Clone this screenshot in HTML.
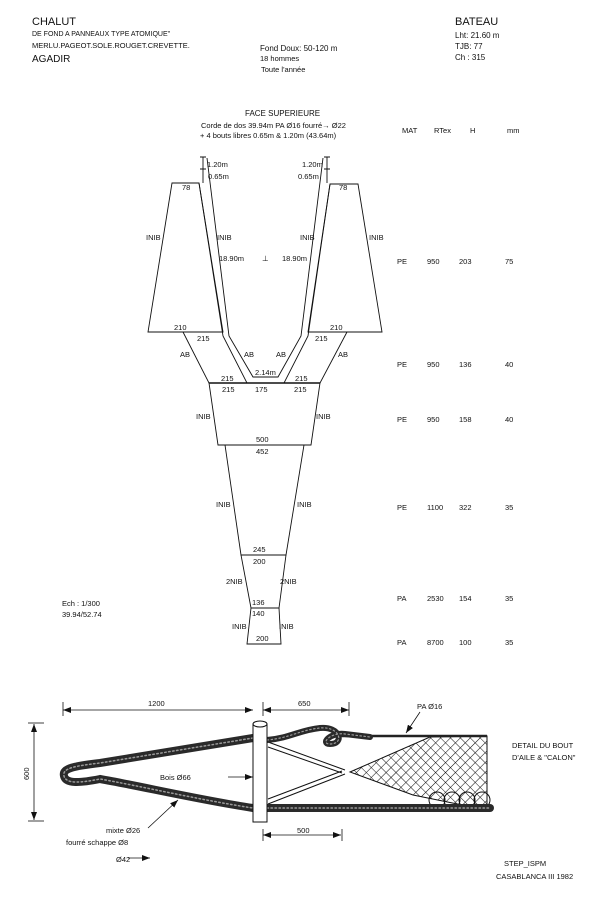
<!DOCTYPE html>
<html><head><meta charset="utf-8"><style>
html,body{margin:0;padding:0;background:#fff}
svg{display:block}
text{font-family:"Liberation Sans",sans-serif;fill:#111}
</style></head><body>
<svg width="600" height="901" viewBox="0 0 600 901" xmlns="http://www.w3.org/2000/svg">
<defs>
<marker id="ar" markerWidth="8" markerHeight="6" refX="8" refY="3" orient="auto" markerUnits="userSpaceOnUse"><path d="M0,0 L8,3 L0,6 z" fill="#111"/></marker>
<marker id="al" markerWidth="8" markerHeight="6" refX="0" refY="3" orient="auto" markerUnits="userSpaceOnUse"><path d="M8,0 L0,3 L8,6 z" fill="#111"/></marker>
<pattern id="net" width="7" height="7" patternUnits="userSpaceOnUse" patternTransform="rotate(45)"><path d="M0,0 H7 M0,0 V7" stroke="#111" stroke-width="1.1"/></pattern>
</defs>
<!-- header -->
<text x="32" y="25" font-size="11">CHALUT</text>
<text x="32" y="36" font-size="7">DE FOND A PANNEAUX TYPE ATOMIQUE"</text>
<text x="32" y="48" font-size="7.5">MERLU.PAGEOT.SOLE.ROUGET.CREVETTE.</text>
<text x="32" y="62" font-size="10">AGADIR</text>
<text x="260" y="51" font-size="8">Fond Doux: 50-120 m</text>
<text x="260" y="61" font-size="7.5">18 hommes</text>
<text x="261" y="72" font-size="7.5">Toute l'année</text>
<text x="455" y="25" font-size="11">BATEAU</text>
<text x="455" y="38" font-size="8">Lht: 21.60 m</text>
<text x="455" y="49" font-size="8">TJB: 77</text>
<text x="455" y="60" font-size="8">Ch : 315</text>
<text x="245" y="116" font-size="8">FACE SUPERIEURE</text>
<text x="201" y="128" font-size="7.5">Corde de dos 39.94m PA Ø16 fourré→ Ø22</text>
<text x="200" y="138" font-size="7.5">+ 4 bouts libres 0.65m &amp; 1.20m (43.64m)</text>
<g font-size="7.5">
<text x="402" y="133">MAT</text><text x="434" y="133">RTex</text><text x="470" y="133">H</text><text x="507" y="133">mm</text>
<text x="397" y="264">PE</text><text x="427" y="264">950</text><text x="459" y="264">203</text><text x="505" y="264">75</text>
<text x="397" y="367">PE</text><text x="427" y="367">950</text><text x="459" y="367">136</text><text x="505" y="367">40</text>
<text x="397" y="422">PE</text><text x="427" y="422">950</text><text x="459" y="422">158</text><text x="505" y="422">40</text>
<text x="397" y="510">PE</text><text x="427" y="510">1100</text><text x="459" y="510">322</text><text x="505" y="510">35</text>
<text x="397" y="601">PA</text><text x="427" y="601">2530</text><text x="459" y="601">154</text><text x="505" y="601">35</text>
<text x="397" y="645">PA</text><text x="427" y="645">8700</text><text x="459" y="645">100</text><text x="505" y="645">35</text>
</g>
<!-- net plan -->
<g fill="none" stroke="#111" stroke-width="0.9">
<polygon points="172,183 199,183 223,332 148,332"/>
<polygon points="330,184 358,184 382,332 308,332"/>
<path d="M207,158 L229,336 L253,377 L278,377 L301,336 L323,158"/>
<path d="M199,183 L223,336 L247,383"/>
<path d="M330,184 L308,336 L284,383"/>
<path d="M183,332 L209,383"/><path d="M347,332 L320,383"/>
<polygon points="209,383 320,383 311,445 218,445"/>
<polygon points="225,445 304,445 286,555 241,555"/>
<polygon points="241,555 286,555 279,608 251,608"/>
<polygon points="251,608 279,608 281,644 247,644"/>
<path d="M203,157 V183 M200,157 H206 M200,169 H206"/>
<path d="M327,157 V183 M324,157 H330 M324,169 H330"/>
</g>
<line x1="209" y1="383" x2="320" y2="383" stroke="#111" stroke-width="1.6"/>
<g font-size="7.5">
<text x="207" y="167">1.20m</text><text x="208" y="179">0.65m</text>
<text x="302" y="167">1.20m</text><text x="298" y="179">0.65m</text>
<text x="182" y="190">78</text><text x="339" y="190">78</text>
<text x="146" y="240">INIB</text><text x="217" y="240">INIB</text>
<text x="300" y="240">INIB</text><text x="369" y="240">INIB</text>
<text x="219" y="261">18.90m</text><text x="282" y="261">18.90m</text>
<text x="262" y="261">⊥</text>
<text x="174" y="330">210</text><text x="330" y="330">210</text>
<text x="197" y="341">215</text><text x="315" y="341">215</text>
<text x="180" y="357">AB</text><text x="244" y="357">AB</text><text x="276" y="357">AB</text><text x="338" y="357">AB</text>
<text x="255" y="375">2.14m</text>
<text x="221" y="381">215</text><text x="295" y="381">215</text>
<text x="222" y="392">215</text><text x="255" y="392">175</text><text x="294" y="392">215</text>
<text x="196" y="419">INIB</text><text x="316" y="419">INIB</text>
<text x="256" y="442">500</text><text x="256" y="454">452</text>
<text x="216" y="507">INIB</text><text x="297" y="507">INIB</text>
<text x="253" y="552">245</text><text x="253" y="564">200</text>
<text x="226" y="584">2NIB</text><text x="280" y="584">2NIB</text>
<text x="252" y="605">136</text><text x="252" y="616">140</text>
<text x="232" y="629">INIB</text><text x="279" y="629">INIB</text>
<text x="256" y="641">200</text>
<text x="62" y="606">Ech : 1/300</text><text x="62" y="617">39.94/52.74</text>
</g>
<!-- detail -->
<g stroke="#111" stroke-width="0.8" fill="none">
<line x1="63" y1="710" x2="253" y2="710" marker-start="url(#al)" marker-end="url(#ar)"/>
<line x1="263" y1="710" x2="349" y2="710" marker-start="url(#al)" marker-end="url(#ar)"/>
<line x1="63" y1="702" x2="63" y2="716"/><line x1="263" y1="702" x2="263" y2="716"/><line x1="349" y1="702" x2="349" y2="716"/>
<line x1="34" y1="724" x2="34" y2="820" marker-start="url(#al)" marker-end="url(#ar)"/>
<line x1="28" y1="723" x2="44" y2="723"/><line x1="28" y1="821" x2="44" y2="821"/>
<line x1="263" y1="835" x2="341" y2="835" marker-start="url(#al)" marker-end="url(#ar)"/>
<line x1="263" y1="829" x2="263" y2="841"/><line x1="342" y1="829" x2="342" y2="841"/>
<line x1="228" y1="777" x2="253" y2="777" marker-end="url(#ar)"/>
<line x1="420" y1="712" x2="406" y2="733" marker-end="url(#ar)"/>
<line x1="148" y1="828" x2="178" y2="800" marker-end="url(#ar)"/>
<line x1="128" y1="858" x2="150" y2="858" marker-end="url(#ar)"/>
</g>
<polygon points="350,772 430,737 487,736 487,810 413,795" fill="url(#net)" stroke="#111" stroke-width="1"/>
<g fill="none" stroke="#111" stroke-width="1">
<path d="M268,742 L345,770 M268,747 L342,773"/>
<path d="M268,804 L345,774 M268,799 L342,771"/>
<circle cx="437" cy="800" r="8"/><circle cx="452" cy="800" r="8"/><circle cx="467" cy="800" r="8"/><circle cx="482" cy="800" r="8"/>
</g>
<line x1="340" y1="736" x2="487" y2="736" stroke="#222" stroke-width="2.5"/>
<g fill="none" stroke-linecap="round">
<path d="M253,738 L100,763 C75,766 62,768 64,776 C66,784 80,783 100,779 C140,786 200,800 253,808" stroke="#2a2a2a" stroke-width="8"/>
<path d="M253,738 L100,763 C75,766 62,768 64,776 C66,784 80,783 100,779 C140,786 200,800 253,808" stroke="#999" stroke-width="1.5" stroke-dasharray="1.5 2.5"/>
<path d="M267,808 L490,808" stroke="#2a2a2a" stroke-width="8"/>
<path d="M267,808 L490,808" stroke="#999" stroke-width="1.5" stroke-dasharray="1.5 2.5"/>
<path d="M267,740 C290,738 300,730 320,728 C340,726 345,744 330,744 C320,744 330,732 345,734 L370,737" stroke="#2a2a2a" stroke-width="6"/>
<path d="M267,740 C290,738 300,730 320,728 C340,726 345,744 330,744 C320,744 330,732 345,734 L370,737" stroke="#999" stroke-width="1.2" stroke-dasharray="1.5 2.5"/>
</g>
<rect x="253" y="724" width="14" height="98" fill="#fff" stroke="#111" stroke-width="1"/>
<ellipse cx="260" cy="724" rx="7" ry="3" fill="#fff" stroke="#111" stroke-width="1"/>
<g font-size="7.5">
<text x="148" y="706">1200</text><text x="298" y="706">650</text>
<text x="417" y="709">PA Ø16</text>
<text x="512" y="748">DETAIL DU BOUT</text><text x="512" y="760">D'AILE &amp; "CALON"</text>
<text x="160" y="780">Bois Ø66</text>
<text x="297" y="833">500</text>
<text x="106" y="833">mixte Ø26</text><text x="66" y="845">fourré schappe Ø8</text><text x="116" y="862">Ø42</text>
<text x="504" y="866">STEP_ISPM</text><text x="496" y="879">CASABLANCA III 1982</text>
<text transform="translate(29,780) rotate(-90)" x="0" y="0">600</text>
</g>
</svg>
</body></html>
